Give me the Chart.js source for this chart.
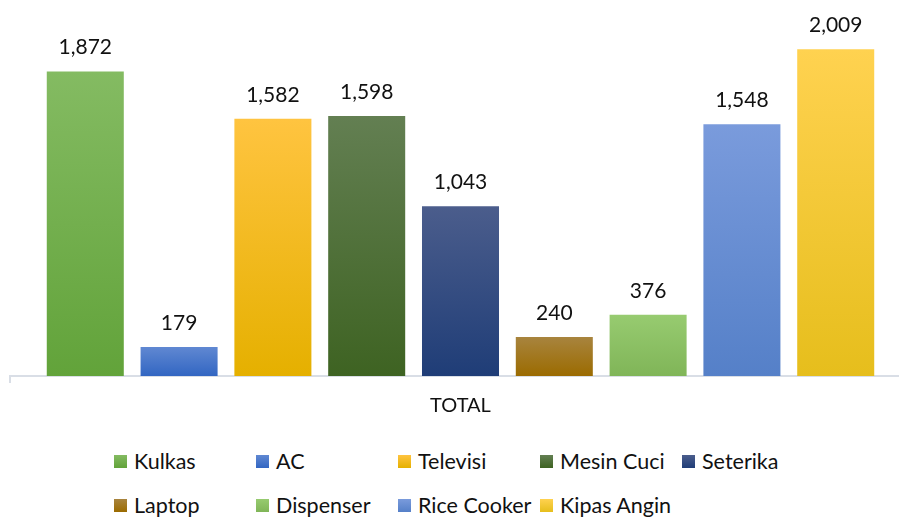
<!DOCTYPE html>
<html>
<head>
<meta charset="utf-8">
<script src="https://cdn.jsdelivr.net/npm/chart.js@4.4.1/dist/chart.umd.min.js"></script>
<style>
  html, body { margin: 0; padding: 0; background: #fff; overflow: hidden; width: 899px; height: 518px; }
  #wrap { position: absolute; left: 0; top: 0; width: 921px; height: 429px; }
  #legend {
    position: absolute; left: 114px; top: 439px;
    display: grid; grid-template-columns: repeat(5, 142px); grid-auto-rows: 44px;
    font-family: Lato, sans-serif; font-size: 21.5px; color: #111;
  }
  .item { display: flex; align-items: center; white-space: nowrap; }
  .sw { width: 13px; height: 13px; margin-right: 7px; flex-shrink: 0; }
</style>
</head>
<body>
<div id="wrap"><canvas id="chart"></canvas></div>
<div id="legend"></div>
<script>
const categories  = ["TOTAL"];
const seriesNames = ["Kulkas", "AC", "Televisi", "Mesin Cuci", "Seterika", "Laptop", "Dispenser", "Rice Cooker", "Kipas Angin"];
const seriesValues = [1872, 179, 1582, 1598, 1043, 240, 376, 1548, 2009];

const colorTop    = ["#84BB62", "#6088D2", "#FFC440", "#637F52", "#4B5D8C", "#A8843E", "#97CB70", "#7A9BDC", "#FFD250"];
const colorBottom = ["#62A33A", "#3266C2", "#E5B000", "#3E6322", "#1F3D77", "#9B6B00", "#80B558", "#5580C8", "#E6BE1C"];

function barGradient(i) {
  return ctx => {
    const chart = ctx.chart;
    if (!chart.chartArea) return colorBottom[i];
    const y = chart.scales.y;
    const v = ctx.raw || 0;
    const g = chart.ctx.createLinearGradient(0, y.getPixelForValue(v), 0, y.getPixelForValue(0));
    g.addColorStop(0, colorTop[i]);
    g.addColorStop(1, colorBottom[i]);
    return g;
  };
}

const valueLabels = {
  id: "valueLabels",
  afterDatasetsDraw(chart) {
    const c = chart.ctx;
    c.save();
    c.font = "21px Lato, sans-serif";
    c.fillStyle = "#111";
    c.textAlign = "center";
    c.textBaseline = "alphabetic";
    chart.data.datasets.forEach((ds, i) => {
      chart.getDatasetMeta(i).data.forEach((bar, j) => {
        c.fillText(ds.data[j].toLocaleString("en-US"), bar.x, bar.y - 17);
      });
    });
    c.restore();
  },
};

const datasets = seriesNames.map((name, i) => ({
  label: name,
  data: [seriesValues[i]],
  backgroundColor: barGradient(i),
  categoryPercentage: 0.937,
  barPercentage: 0.821,
}));

new Chart(document.getElementById("chart"), {
  type: "bar",
  data: { labels: categories, datasets },
  options: {
    responsive: true,
    maintainAspectRatio: false,
    animation: false,
    layout: { padding: { left: 10, right: 10, top: 10, bottom: 0 } },
    plugins: { legend: { display: false }, tooltip: { enabled: false } },
    scales: {
      x: {
        grid: { display: true, drawOnChartArea: false, drawTicks: true, tickLength: 7, color: "#D9DEE6", lineWidth: 2 },
        border: { display: true, color: "#D9DEE6", width: 2 },
        ticks: { color: "#111", padding: 11, font: { family: "Lato, sans-serif", size: 20 } },
      },
      y: { display: false, min: 0, max: 2250 },
    },
  },
  plugins: [valueLabels],
});

document.getElementById("legend").innerHTML = seriesNames
  .map((name, i) => `
    <div class="item">
      <span class="sw" style="background:linear-gradient(${colorTop[i]}, ${colorBottom[i]});"></span>
      <span>${name}</span>
    </div>`)
  .join("");
</script>
</body>
</html>
